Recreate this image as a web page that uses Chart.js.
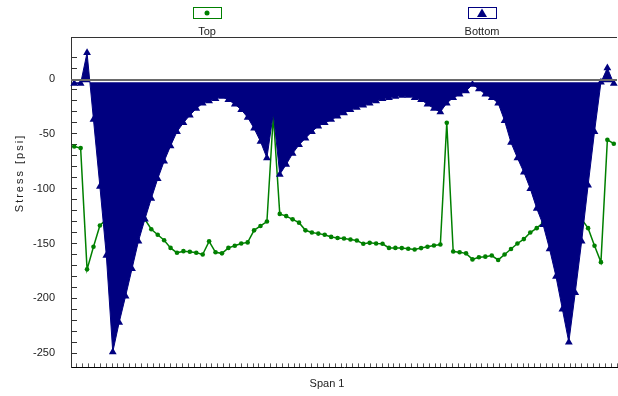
<!DOCTYPE html>
<html>
<head>
<meta charset="utf-8">
<title>Stress - Span 1</title>
<script src="https://cdn.jsdelivr.net/npm/chart.js@4.4.1/dist/chart.umd.min.js"></script>
<style>
  html, body { margin: 0; padding: 0; background: #fff; }
  #wrap { width: 618px; height: 396px; }
</style>
</head>
<body>
<div id="wrap"><canvas id="stressChart" width="618" height="396"></canvas></div>
<script>
// Stress along span 1 (psi)
const stations = Array.from({ length: 85 }, (_, i) => String(i));

const topStress = [
  -61.5, -63, -173.6, -153, -133.6, -128, -124, -122, -121, -122,
  -124, -128, -137, -142, -147, -154, -158.5, -157, -157.6, -158.5,
  -160, -148, -158, -159, -154, -152, -150, -149, -138, -134,
  -130, -33, -123, -125, -128, -131, -138, -140, -141, -142,
  -144, -145, -145.5, -146.4, -147.3, -150.3, -149.4, -150, -150.3, -154,
  -154, -154.2, -154.8, -155.5, -154.2, -153, -151.8, -150.9, -40, -157.3,
  -158, -159, -164.5, -162.5, -162, -161, -165, -160, -155, -150,
  -146, -140, -136, -131, -127, -124, -122, -122, -124, -128,
  -136, -152, -167, -55.5, -59
];

const bottomStress = [
  -4, -4, 24, -37, -98, -161, -249, -222, -198, -173,
  -148, -128, -109, -91, -75, -61, -48, -40, -33, -27,
  -22, -20, -18, -16, -19, -23, -28, -35, -45, -57,
  -72, -31, -87, -78, -68, -60, -54, -48, -43, -40,
  -37, -34, -31, -28, -26, -24, -22, -20, -18, -17,
  -16, -15, -15, -17, -19, -23, -27, -30, -22, -17,
  -14, -11, -5, -9, -14, -17, -22, -38, -58, -72,
  -85, -100, -118, -133, -155, -180, -210, -240, -195, -148,
  -97, -48, -3, 10, -4
];

// range is not a whole number of steps, so Chart.js keeps ticks on multiples of 10
const yMin = -263;
const yMax = 37.4;
const yTickStep = 10;
const yLabelStep = 50;
const spanTicks = 93;
const yTitle = 'Stress [psi]';
const xTitle = 'Span 1';

const FONT = "'Liberation Sans', Arial, sans-serif";
const GREEN = '#008000';
const NAVY = '#000080';

// zero line sits over the filled area, plus the frame line along the top
const frameLines = {
    id: 'frameLines',
    afterDatasetsDraw(chart) {
        const { ctx, chartArea } = chart;
        const y0 = chart.scales.y.getPixelForValue(0);
        ctx.save();
        ctx.strokeStyle = '#6a6a6a';
        ctx.lineWidth = 2;
        ctx.beginPath();
        ctx.moveTo(chartArea.left, y0 + 1);
        ctx.lineTo(chartArea.right, y0 + 1);
        ctx.stroke();
        ctx.strokeStyle = '#333';
        ctx.lineWidth = 1;
        ctx.beginPath();
        ctx.moveTo(chartArea.left, chartArea.top - 0.5);
        ctx.lineTo(chartArea.right, chartArea.top - 0.5);
        ctx.stroke();
        ctx.restore();
    }
};

// legend: marker inside a small box, name underneath
const boxLegend = {
    id: 'boxLegend',
    afterDraw(chart) {
        const ctx = chart.ctx;
        const centres = [207, 482];
        chart.data.datasets.forEach((ds, i) => {
            const cx = centres[i];
            ctx.save();
            ctx.strokeStyle = ds.borderColor;
            ctx.lineWidth = 1;
            ctx.strokeRect(cx - 14 + 0.5, 7.5, 28, 11);
            ctx.fillStyle = ds.borderColor;
            ctx.beginPath();
            if (ds.pointStyle === 'triangle') {
                ctx.moveTo(cx, 8.5);
                ctx.lineTo(cx + 5, 17);
                ctx.lineTo(cx - 5, 17);
                ctx.closePath();
            } else {
                ctx.arc(cx, 13, 2.5, 0, Math.PI * 2);
            }
            ctx.fill();
            ctx.fillStyle = '#222';
            ctx.font = '11px ' + FONT;
            ctx.textAlign = 'center';
            ctx.textBaseline = 'alphabetic';
            ctx.fillText(ds.label, cx, 35);
            ctx.restore();
        });
    }
};

const axisTitles = {
    id: 'axisTitles',
    afterDraw(chart) {
        const ctx = chart.ctx;
        ctx.save();
        ctx.fillStyle = '#222';
        ctx.font = '11px ' + FONT;
        ctx.textAlign = 'center';
        ctx.textBaseline = 'middle';
        ctx.fillText(xTitle, 327, 384);
        ctx.translate(20, 173);
        ctx.rotate(-Math.PI / 2);
        ctx.letterSpacing = '2px';
        ctx.fillText(yTitle, 0, 0);
        ctx.restore();
    }
};

new Chart(document.getElementById('stressChart'), {
    type: 'line',
    data: {
        labels: stations,
        datasets: [
            {
                label: 'Top',
                data: topStress,
                borderColor: GREEN,
                backgroundColor: GREEN,
                borderWidth: 1.5,
                pointStyle: 'circle',
                pointRadius: 2.3,
                pointBorderWidth: 0,
                fill: false,
                tension: 0,
                order: 1
            },
            {
                label: 'Bottom',
                data: bottomStress,
                borderColor: NAVY,
                backgroundColor: NAVY,
                borderWidth: 1,
                pointStyle: 'triangle',
                pointRadius: 4.5,
                pointBorderWidth: 0,
                fill: { value: -3 },
                tension: 0,
                order: 0
            }
        ]
    },
    options: {
        responsive: false,
        animation: false,
        devicePixelRatio: 1,
        layout: { autoPadding: false, padding: { top: 38, right: 1, left: 0, bottom: 0 } },
        plugins: {
            legend: { display: false },
            tooltip: { enabled: false }
        },
        scales: {
            x: {
                type: 'category',
                display: false,
                offset: true
            },
            xt: {
                type: 'linear',
                position: 'bottom',
                min: 0,
                max: spanTicks,
                afterFit(scale) { scale.height = 28; },
                ticks: { stepSize: 1, display: false, autoSkip: false },
                grid: { drawOnChartArea: false, tickLength: -4, tickColor: '#555', tickWidth: 1 },
                border: { color: '#000', width: 1 }
            },
            y: {
                min: yMin,
                max: yMax,
                afterFit(scale) { scale.width = 71; },
                afterBuildTicks(scale) {
                    scale.ticks = scale.ticks.filter(t => Math.abs(t.value - Math.round(t.value / yTickStep) * yTickStep) < 1e-6);
                },
                ticks: {
                    stepSize: yTickStep,
                    autoSkip: false,
                    padding: 22,
                    color: '#222',
                    font: { family: FONT, size: 11 },
                    callback: v => (Math.round(v) % yLabelStep === 0 ? String(Math.round(v)) : '')
                },
                grid: { drawOnChartArea: false, tickLength: -6, tickColor: '#333', tickWidth: 1 },
                border: { color: '#333', width: 1 }
            }
        }
    },
    plugins: [frameLines, boxLegend, axisTitles]
});
</script>
</body>
</html>
